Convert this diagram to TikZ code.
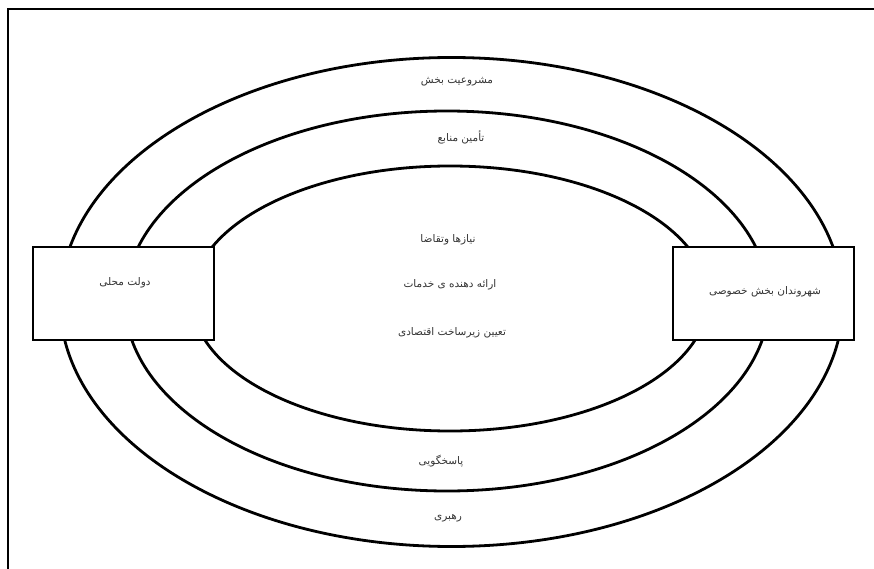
\documentclass[tikz,border=0pt]{standalone}
\usepackage{fontspec}
\TeXXeTstate=1
\newfontfamily\arabicfont[Script=Arabic]{DejaVu Sans}
\newcommand{\fa}[1]{{\arabicfont\beginR #1\endR}}
\begin{document}
\begin{tikzpicture}[x=1pt,y=-1pt,
  ring/.style={draw=black,line width=2.8pt},
  actor/.style={draw=black,fill=white,line width=2.8pt,minimum width=181pt,minimum height=93pt,inner sep=0pt},
  lbl/.style={font=\fontsize{10.5}{12}\selectfont,inner sep=1pt,text=black!80}
]
\useasboundingbox (0,0) rectangle (874,569);
\draw[line width=2.8pt] (8,569) -- (8,9) -- (874,9);
\draw[ring] (451.5,302) ellipse [x radius=391.5pt, y radius=244.5pt];
\draw[ring] (447,301) ellipse [x radius=322pt, y radius=190pt];
\draw[ring] (450,298.5) ellipse [x radius=258pt, y radius=132.5pt];
\node[actor] (gov) at (123.5,293.5) {};
\node[actor] (cit) at (763.5,293.5) {};
\node[lbl] (govt) at (125,283) {\fa{دولت محلی}};
\node[lbl] (citt) at (765,292) {\fa{شهروندان بخش خصوصی}};
\node[lbl] (t1) at (457,82) {\fa{مشروعیت بخش}};
\node[lbl] (t2) at (461,137) {\fa{تأمین منابع}};
\node[lbl] (t3) at (448,240) {\fa{نیازها وتقاضا}};
\node[lbl] (t4) at (450,285) {\fa{ارائه دهنده ی خدمات}};
\node[lbl] (t5) at (452,333) {\fa{تعیین زیرساخت اقتصادی}};
\node[lbl] (t6) at (441,461) {\fa{پاسخگویی}};
\node[lbl] (t7) at (448,518) {\fa{رهبری}};
\end{tikzpicture}
\end{document}
